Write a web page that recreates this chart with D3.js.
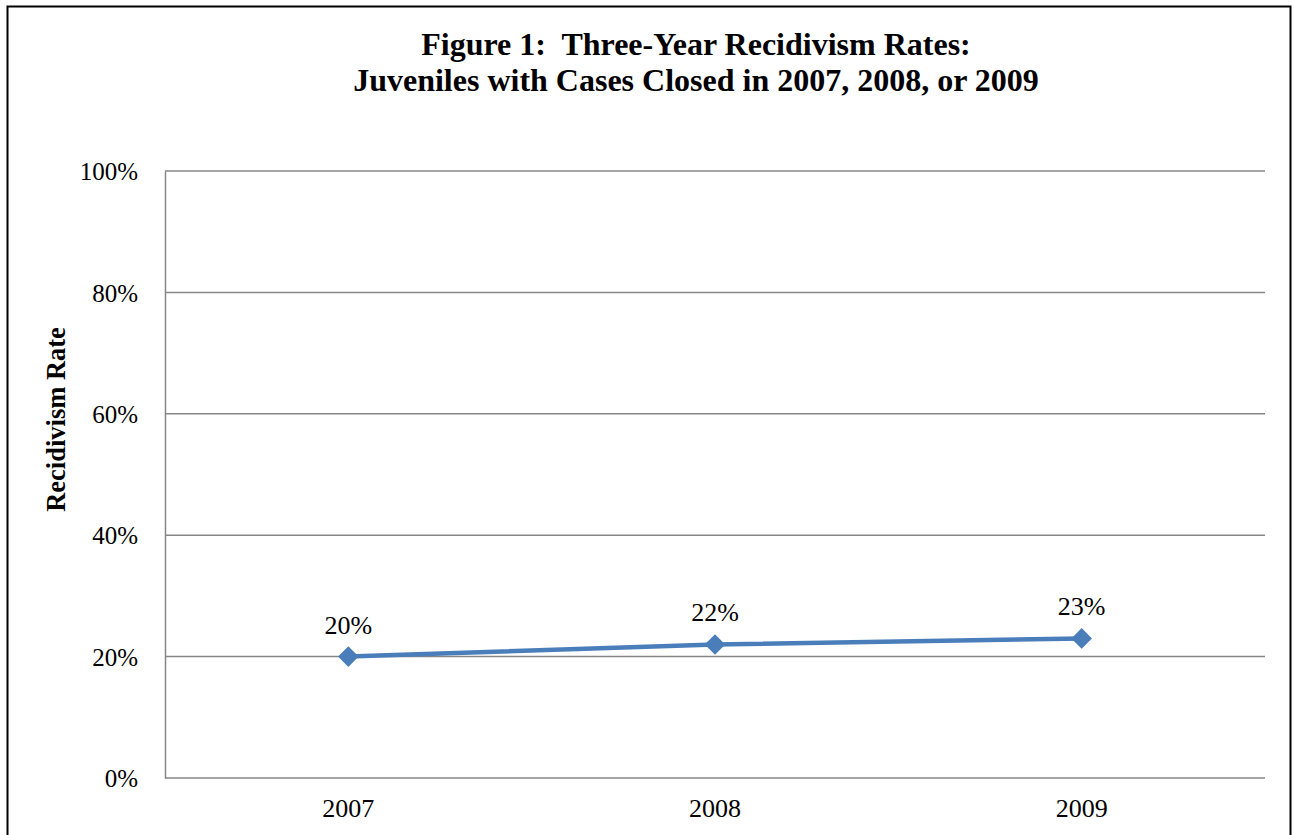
<!DOCTYPE html>
<html>
<head>
<meta charset="utf-8">
<script src="https://cdn.jsdelivr.net/npm/d3@7"></script>
<style>
  html, body { margin: 0; padding: 0; background: #fff; }
  svg { display: block; }
  text { font-family: "Liberation Serif", "Times New Roman", serif; fill: #000; }
</style>
</head>
<body>
<svg id="chart" width="1294" height="835"></svg>
<script>
// Chart data
const years = ["2007", "2008", "2009"];
const rates = [20, 22, 23];
const yTicks = [0, 20, 40, 60, 80, 100];
const titleLines = ["Figure 1:  Three-Year Recidivism Rates:", "Juveniles with Cases Closed in 2007, 2008, or 2009"];
const yAxisTitle = "Recidivism Rate";

const svg = d3.select("#chart");
const plot = { left: 165, right: 1265, top: 171, bottom: 778 };

// Outer frame (bottom edge runs past the visible area)
svg.append("rect")
  .attr("x", 7.5).attr("y", 6.5)
  .attr("width", 1283).attr("height", 860)
  .attr("fill", "#fff").attr("stroke", "#000").attr("stroke-width", 2);

// Title
svg.append("text")
  .attr("text-anchor", "middle")
  .attr("font-size", 32).attr("font-weight", "bold")
  .style("white-space", "pre")
  .selectAll("tspan").data(titleLines).join("tspan")
  .attr("x", 696).attr("y", (d, i) => 55 + i * 36)
  .text(d => d);

// Scales
const x = d3.scaleBand().domain(years).range([plot.left, plot.right]);
const y = d3.scaleLinear().domain([0, 100]).range([plot.bottom, plot.top]);
const cx = d => x(d) + x.bandwidth() / 2;

// Horizontal gridlines
svg.append("g")
  .selectAll("line").data(yTicks).join("line")
  .attr("x1", plot.left).attr("x2", plot.right)
  .attr("y1", d => y(d)).attr("y2", d => y(d))
  .attr("stroke", "#868686").attr("stroke-width", 1.5);

// Y axis
const yAxis = svg.append("g")
  .attr("transform", `translate(${plot.left},0)`)
  .call(d3.axisLeft(y).tickValues(yTicks).tickFormat(d => d + "%").tickSize(0).tickPadding(27));
yAxis.select(".domain").attr("stroke", "#868686").attr("stroke-width", 1.5);
yAxis.selectAll("text")
  .attr("font-family", "Liberation Serif, serif")
  .attr("font-size", 25).attr("fill", "#000").attr("dy", "0.35em");

// X axis labels
const xAxis = svg.append("g")
  .attr("transform", `translate(0,${plot.bottom})`)
  .call(d3.axisBottom(x).tickSize(0).tickPadding(21));
xAxis.select(".domain").remove();
xAxis.selectAll("text")
  .attr("font-family", "Liberation Serif, serif")
  .attr("font-size", 26).attr("fill", "#000");

// Y axis title
svg.append("text")
  .attr("transform", `translate(65,${(plot.top + plot.bottom) / 2 - 55}) rotate(-90)`)
  .attr("text-anchor", "middle")
  .attr("font-size", 26.5).attr("font-weight", "bold")
  .text(yAxisTitle);

// Series line
const pts = years.map((yr, i) => ({ yr, v: rates[i] }));
svg.append("path")
  .datum(pts)
  .attr("fill", "none")
  .attr("stroke", "#4a7ebb").attr("stroke-width", 4.5)
  .attr("stroke-linejoin", "round")
  .attr("d", d3.line().x(d => cx(d.yr)).y(d => y(d.v)));

// Diamond markers
svg.append("g")
  .selectAll("path").data(pts).join("path")
  .attr("transform", d => `translate(${cx(d.yr)},${y(d.v)})`)
  .attr("d", d3.symbol().type(d3.symbolDiamond2).size(270))
  .attr("fill", "#4a7ebb");

// Value labels
svg.append("g")
  .selectAll("text").data(pts).join("text")
  .attr("x", d => cx(d.yr))
  .attr("y", d => y(d.v) - 23)
  .attr("text-anchor", "middle")
  .attr("font-size", 26)
  .text(d => d.v + "%");
</script>
</body>
</html>
